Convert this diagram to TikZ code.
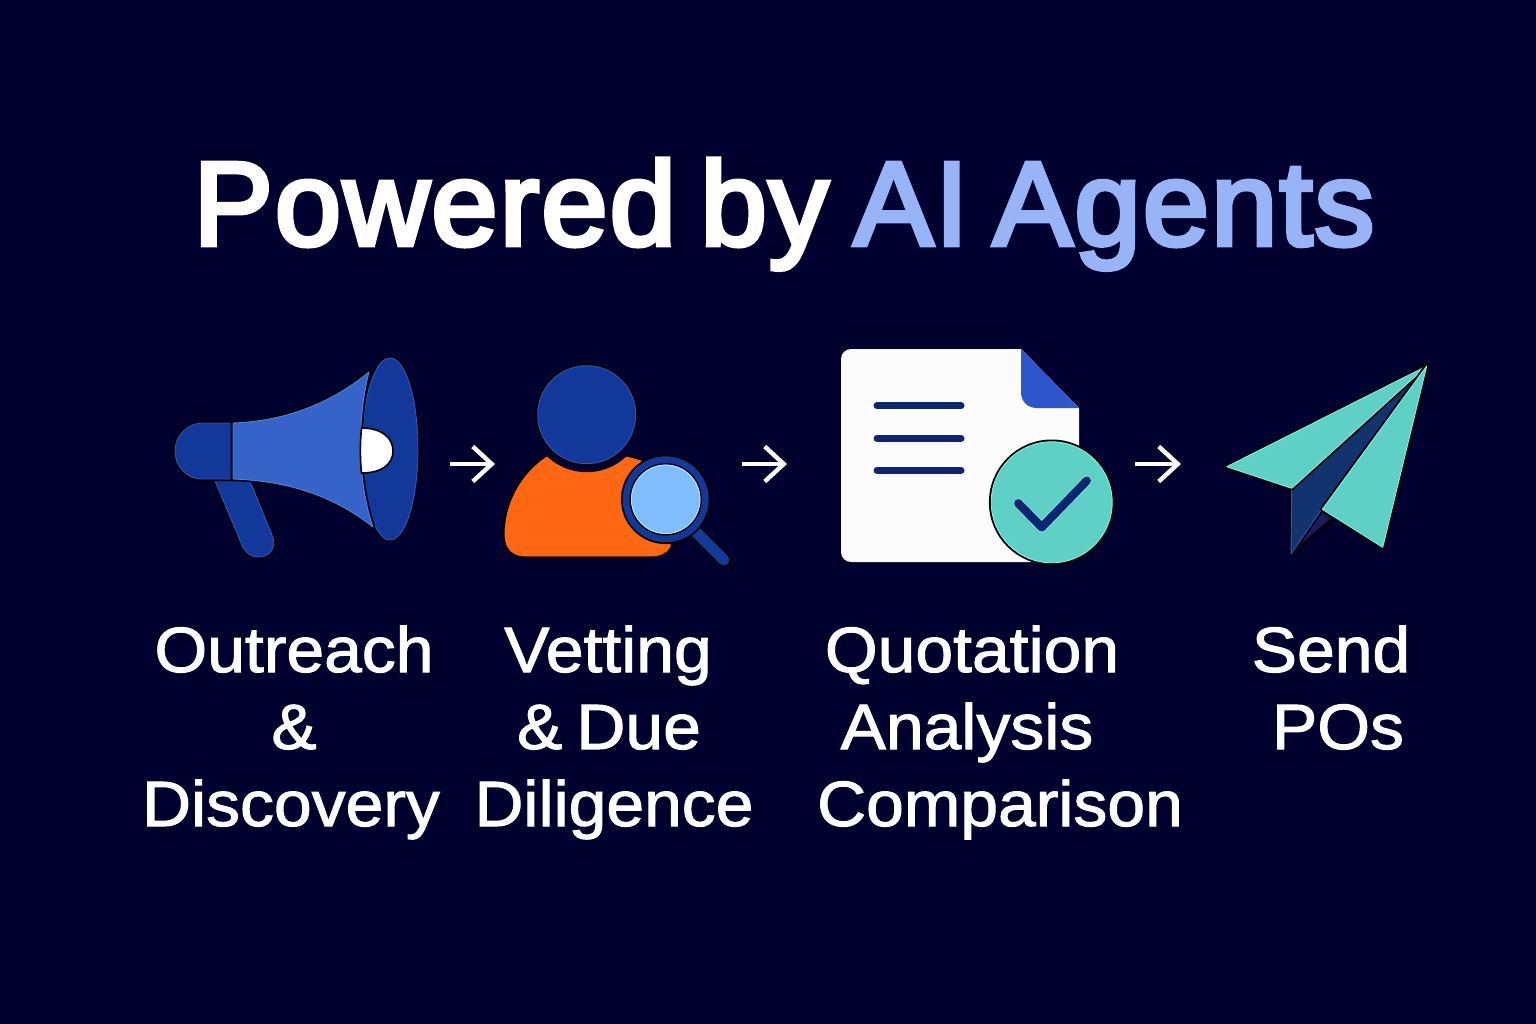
\documentclass[tikz,border=0pt]{standalone}
\usepackage{fontspec}
\setmainfont{Liberation Sans}
\newfontfamily\titlefont[FakeBold=4,LetterSpace=1.8,WordSpace=0.7]{Liberation Sans}
\newfontfamily\labelfont[FakeBold=1.6,FakeStretch=1.06,WordSpace=0.75]{Liberation Sans}
\usetikzlibrary{arrows.meta}
\definecolor{bgnavy}{HTML}{00002E}
\definecolor{accent}{HTML}{97B4F7}
\definecolor{deepblue}{HTML}{12389A}
\definecolor{edgeblue}{HTML}{2A55C8}
\definecolor{hornblue}{HTML}{3563C8}
\definecolor{hornedge}{HTML}{4A80EE}
\definecolor{orangeb}{HTML}{FF6712}
\definecolor{lens}{HTML}{7FBDFE}
\definecolor{lensedge}{HTML}{B5E2FF}
\definecolor{foldblue}{HTML}{2D55CC}
\definecolor{inkblue}{HTML}{0C2670}
\definecolor{teal}{HTML}{5FD0C5}
\definecolor{tealedge}{HTML}{80F0E5}
\definecolor{planeblue}{HTML}{12336E}
\definecolor{planeshade}{HTML}{1B1B5E}
\definecolor{paper}{HTML}{FCFCFC}
\tikzset{
  x=1pt,y=-1pt,
  outlined/.style={preaction={draw=black,line width=4.6,line join=round}, draw=#1, line width=0.9, line join=round},
  flow/.style={draw=white,line width=4.4,-{Straight Barb[length=19pt,width=35pt,line width=4.4]}},
  headline/.style={inner sep=0,anchor=base,font=\titlefont\fontsize{119}{119}\selectfont},
  steplabel/.style={inner sep=0,anchor=base,text=white,font=\labelfont\fontsize{64}{64}\selectfont},
  textline/.style={draw=inkblue,line width=7,line cap=round},
}
\begin{document}
\begin{tikzpicture}
\useasboundingbox (0,0) rectangle (1536,1024);
\fill[bgnavy] (0,0) rectangle (1536,1024);

% title
\node[headline,text=white] (t1) at (511,245) {Powered by};
\node[headline,text=accent] (t2) at (1114,245) {AI Agents};

% megaphone
\path[fill=deepblue,outlined=edgeblue] (215,481) -- (250,481) -- (272,535)
  .. controls (278,549) and (268,557) .. (258,557)
  .. controls (250,557) and (245,552) .. (242,545) -- cycle;
\path[fill=deepblue,outlined=edgeblue] (233,423) -- (203,423)
  .. controls (187,423) and (175,436) .. (175,451)
  .. controls (175,467) and (187,479) .. (203,479) -- (233,479) -- cycle;
\path[fill=deepblue,outlined=edgeblue] (390,449) ellipse [x radius=28, y radius=91];
\path[fill=hornblue,outlined=hornedge] (233,423)
  .. controls (290,421) and (335,400) .. (369,372)
  .. controls (357,420) and (357,480) .. (373,527)
  .. controls (335,497) and (290,481) .. (233,479) -- cycle;
\path[fill=white,draw=black,line width=1.6] (361.5,428)
  .. controls (382,428) and (393,438) .. (393,451)
  .. controls (393,464) and (382,473) .. (361.5,473)
  .. controls (360,458) and (360,443) .. (361.5,428) -- cycle;

% person
\path[fill=orangeb,outlined=orangeb] (547,457)
  .. controls (520,475) and (505,505) .. (505,535)
  .. controls (505,548) and (513,556) .. (525,556)
  -- (650,556) .. controls (660,556) and (666,553) .. (670,547)
  -- (672,470) -- (627,457) -- cycle;
\fill[bgnavy] (586.7,414.7) circle [radius=57.5];
\path[fill=deepblue,outlined=edgeblue] (586.7,414.7) circle [radius=49];
\draw[black,line width=14.5,line cap=round] (692,528) -- (724,560);
\draw[deepblue,line width=11,line cap=round] (692,528) -- (724,560);
\path[fill=deepblue,outlined=deepblue] (665.7,499.3) circle [radius=42.5];
\path[fill=lens,draw=black,line width=1.4] (665.7,499.3) circle [radius=35.5];
\path[draw=lensedge,line width=0.9] (665.7,499.3) circle [radius=34.2];

% document
\fill[paper] (851,349) -- (1021,349) -- (1079,408) -- (1079,552)
  arc[start angle=0,end angle=90,radius=10] -- (851,562)
  arc[start angle=90,end angle=180,radius=10] -- (841,359)
  arc[start angle=180,end angle=270,radius=10] -- cycle;
\fill[foldblue] (1021,349) -- (1079,408) -- (1037,408)
  .. controls (1027,408) and (1021,401) .. (1021,392) -- cycle;
\draw[textline] (877,405.7) -- (961,405.7);
\draw[textline] (877,438.3) -- (961,438.3);
\draw[textline] (877,470.3) -- (961,470.3);
\path[fill=teal,outlined=tealedge] (1051.7,502.3) circle [radius=60.5];
\draw[tealedge,line width=10,line cap=round,line join=round] (1018.3,503.3) -- (1041.7,527.3) -- (1086.7,480.7);
\draw[inkblue,line width=8.5,line cap=round,line join=round] (1018.3,503.3) -- (1041.7,527.3) -- (1086.7,480.7);

% plane
\path[fill=planeshade,draw=black,line width=2.4,line join=round] (1321,510) -- (1333,518.3) -- (1291,554) -- cycle;
\path[fill=planeblue,outlined=edgeblue] (1291.7,488.3) -- (1426.7,366) -- (1322.3,508.3) -- (1291,554) -- cycle;
\path[fill=teal,outlined=tealedge] (1426.7,366) -- (1226.7,466.7) -- (1291.7,488.3) -- cycle;
\path[fill=teal,outlined=tealedge] (1426.7,366) -- (1322.3,509.3) -- (1382.7,547.3) -- cycle;

% connectors
\coordinate (a1s) at (450,464); \coordinate (a1e) at (495,464);
\coordinate (a2s) at (742,464); \coordinate (a2e) at (787,464);
\coordinate (a3s) at (1135,464); \coordinate (a3e) at (1181,464);
\draw[flow] (a1s) -- (a1e);
\draw[flow] (a2s) -- (a2e);
\draw[flow] (a3s) -- (a3e);

% labels
\node[steplabel] (l11) at (294,672) {Outreach};
\node[steplabel] (l12) at (294,749) {\&};
\node[steplabel] (l13) at (291,826) {Discovery};
\node[steplabel] (l21) at (608,672) {Vetting};
\node[steplabel] (l22) at (609,749) {\& Due};
\node[steplabel] (l23) at (614,826) {Diligence};
\node[steplabel] (l31) at (972,672) {Quotation};
\node[steplabel] (l32) at (967,749) {Analysis};
\node[steplabel] (l33) at (1000,826) {Comparison};
\node[steplabel] (l41) at (1331,672) {Send};
\node[steplabel] (l42) at (1338,749) {POs};
\end{tikzpicture}
\end{document}
